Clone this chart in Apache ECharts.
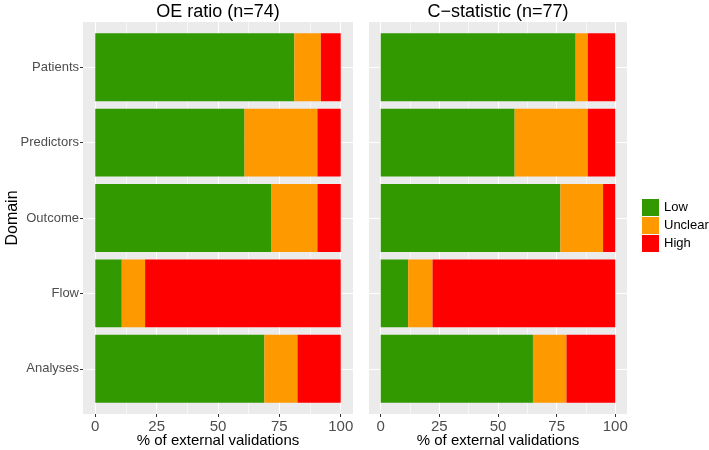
<!DOCTYPE html>
<html><head><meta charset="utf-8">
<script src="https://cdn.jsdelivr.net/npm/echarts@6/dist/echarts.min.js"></script>
<style>html,body{margin:0;padding:0;background:#fff}#c{width:709px;height:450px}</style>
</head><body><div id="c"></div>
<script>
// ---- data (percent of external validations) ----
const domains = ['Patients', 'Predictors', 'Outcome', 'Flow', 'Analyses'];
const panelTitles = ['OE ratio (n=74)', 'C\u2212statistic (n=77)'];
const xAxisTitle = '% of external validations';
const yAxisTitle = 'Domain';
const riskLevels = ['Low', 'Unclear', 'High'];
const xTicks = [0, 25, 50, 75, 100];

const oeLow     = [81.1, 60.8, 71.6, 10.8, 68.9];
const oeUnclear = [10.8, 29.7, 18.9,  9.5, 13.5];
const oeHigh    = [ 8.1,  9.5,  9.5, 79.7, 17.6];

const cLow      = [83.1, 57.1, 76.6, 11.7, 64.9];
const cUnclear  = [ 5.2, 31.2, 18.2, 10.4, 14.3];
const cHigh     = [11.7, 11.7,  5.2, 77.9, 20.8];

// ---- layout ----
const riskColors = ['#339900', '#FF9900', '#FF0000'];
const panels = [{left: 83, width: 270}, {left: 369, width: 258}];
const PT = 22, PH = 392;
const unit = PH / 5.2;
const panelData = [[oeLow, oeUnclear, oeHigh], [cLow, cUnclear, cHigh]];
const domainPos = domains.map((d, i) => i);
const FONT = '"Liberation Sans"';

const grids = [], xAxes = [], yAxes = [], series = [], graphics = [];
const hiddenAxis = {show: false};
panels.forEach((pn, p) => {
  const g0 = grids.length;
  // 0: background grid (full panel) with white grid lines
  grids.push({left: pn.left, top: PT, width: pn.width, height: PH, show: true,
    backgroundColor: '#EBEBEB', borderWidth: 0, z: 0});
  xAxes.push({gridIndex: g0, type: 'value', min: -5, max: 105, show: false});
  yAxes.push({gridIndex: g0, type: 'value', min: -0.6, max: 4.6, inverse: true, show: false});
  const ml = [];
  [12.5, 37.5, 62.5, 87.5].forEach(v => ml.push({xAxis: v, lineStyle: {width: 0.55}}));
  xTicks.forEach(v => ml.push({xAxis: v, lineStyle: {width: 1.1}}));
  domainPos.forEach(i => ml.push({yAxis: i, lineStyle: {width: 1.1}}));
  series.push({type: 'scatter', xAxisIndex: g0, yAxisIndex: g0, data: [], silent: true, z: 1,
    markLine: {silent: true, symbol: 'none', label: {show: false}, animation: false, z: 1,
      lineStyle: {color: '#FFFFFF', type: 'solid'}, data: ml}});

  // 1: bars grid (category bands inset like ggplot's 0.6 expansion)
  grids.push({left: pn.left, top: PT + unit * 0.1, width: pn.width, height: unit * 5, show: false});
  xAxes.push({gridIndex: g0 + 1, type: 'value', min: -5, max: 105, show: false});
  yAxes.push({gridIndex: g0 + 1, type: 'category', data: domains, inverse: true, show: false});
  riskLevels.forEach((lv, k) => {
    series.push({type: 'bar', name: lv, stack: 'panel' + p, xAxisIndex: g0 + 1, yAxisIndex: g0 + 1,
      data: panelData[p][k], barWidth: '90%', itemStyle: {color: riskColors[k]}, z: 5,
      silent: true, animation: false});
  });

  // 2: x axis strip at panel bottom (0..100)
  grids.push({left: pn.left + pn.width * 5 / 110, width: pn.width * 100 / 110,
    top: PT + PH - 1, height: 1, show: false});
  xAxes.push({gridIndex: g0 + 2, type: 'value', min: 0, max: 100, interval: 25, position: 'bottom',
    axisLine: {show: false},
    axisTick: {show: true, length: 3, lineStyle: {color: '#333333', width: 1}},
    splitLine: {show: false},
    axisLabel: {color: '#4D4D4D', fontSize: 15, margin: 5}});
  yAxes.push({gridIndex: g0 + 2, type: 'value', show: false});

  graphics.push({type: 'text', x: pn.left + pn.width / 2, y: 12,
    style: {text: panelTitles[p], fill: '#000', font: '18px ' + FONT,
      textAlign: 'center', textVerticalAlign: 'middle'}});
  graphics.push({type: 'text', x: pn.left + pn.width / 2, y: 441,
    style: {text: xAxisTitle, fill: '#000', font: '15px ' + FONT,
      textAlign: 'center', textVerticalAlign: 'middle'}});
});
// y axis strip (left panel only): category labels and ticks
const gy = grids.length;
grids.push({left: panels[0].left, width: 1, top: PT + unit * 0.1, height: unit * 5, show: false});
xAxes.push({gridIndex: gy, type: 'value', show: false});
yAxes.push({gridIndex: gy, type: 'category', data: domains, inverse: true, position: 'left',
  axisLine: {show: false},
  axisTick: {show: true, alignWithLabel: true, length: 3, lineStyle: {color: '#333333', width: 1}},
  splitLine: {show: false},
  axisLabel: {color: '#4D4D4D', fontSize: 13, margin: 4}});
graphics.push({type: 'text', x: 13, y: PT + PH / 2, rotation: Math.PI / 2,
  style: {text: yAxisTitle, fill: '#000', font: '16px ' + FONT,
    textAlign: 'center', textVerticalAlign: 'middle'}});

const chart = echarts.init(document.getElementById('c'), null, {renderer: 'canvas'});
chart.setOption({
  animation: false,
  textStyle: {fontFamily: 'Liberation Sans'},
  grid: grids, xAxis: xAxes, yAxis: yAxes, series: series,
  legend: {data: riskLevels, orient: 'vertical', left: 642, top: 199, padding: 0,
    itemWidth: 17, itemHeight: 17, itemGap: 1, icon: 'rect', selectedMode: false,
    textStyle: {fontSize: 13, color: '#000', overflow: 'none'}},
  graphic: graphics
});
</script></body></html>
